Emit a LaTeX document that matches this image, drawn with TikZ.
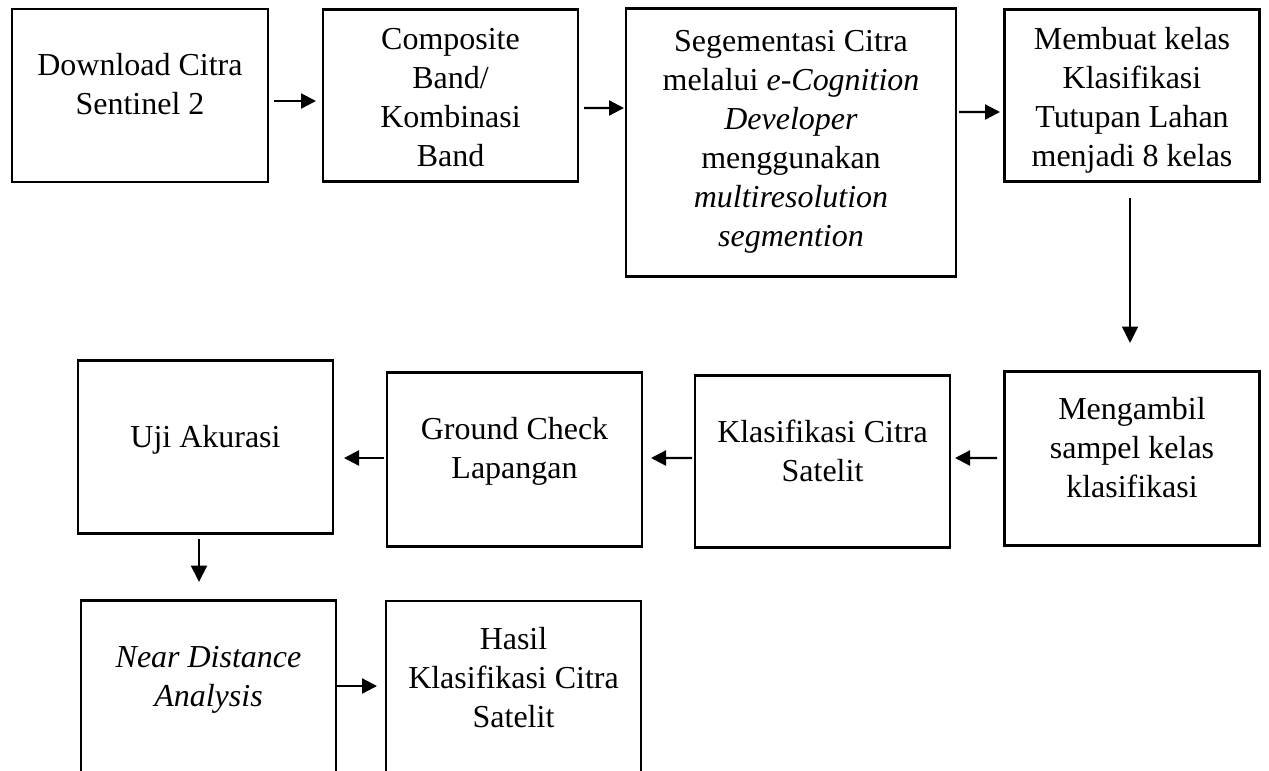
\documentclass[tikz,border=0pt]{standalone}
\usepackage{fontspec}
\setmainfont{Liberation Serif}
\usepackage{tikz}
\usetikzlibrary{arrows.meta,positioning}
\tikzset{
	block/.style = {draw, line width=1.3pt, rectangle, inner sep=0pt, outer sep=0pt, text width=5.1cm, align=flush center},
	flow/.style = {-{Triangle[length=0.3cm,width=0.3cm]}, line width=1.3pt},
	flowdown/.style = {-{Triangle[length=0.33cm,width=0.32cm]}, line width=1.1pt}
}
\begin{document}
\begin{tikzpicture}[font=\fontsize{18.2}{22.2}\selectfont]
    \useasboundingbox (0,0) rectangle (25.38,-15.4);
    \clip (0,0) rectangle (25.38,-15.4);

    \node [block, text width=5.12cm, text height=1.32cm, text depth=2.14cm] (download) at (2.8,-1.91) {Download Citra\\Sentinel 2};
    \node [block, text height=0.8cm, text depth=2.64cm, right of=download, node distance=6.21cm] (composite) {Composite\\Band/\\Kombinasi\\Band};
    \node [block, text width=6.6cm, text height=0.86cm, text depth=4.5cm, right of=composite, node distance=6.81cm, yshift=-0.94cm] (segmentasi) {Segementasi Citra\\melalui \textit{e-Cognition}\\\textit{Developer}\\menggunakan\\\textit{multiresolution}\\\textit{segmention}};
    \node [block, text height=0.8cm, text depth=2.64cm, right of=segmentasi, node distance=6.82cm, yshift=0.94cm] (membuat) {Membuat kelas\\Klasifikasi\\Tutupan Lahan\\menjadi 8 kelas};

    \node [block, text height=0.96cm, text depth=2.52cm, below of=membuat, node distance=7.26cm] (mengambil) {Mengambil\\sampel kelas\\klasifikasi};
    \node [block, text height=1.34cm, text depth=2.1cm, left of=mengambil, node distance=6.19cm, yshift=-0.06cm] (klasifikasi) {Klasifikasi Citra\\Satelit};
    \node [block, text height=1.34cm, text depth=2.14cm, left of=klasifikasi, node distance=6.16cm, yshift=0.04cm] (ground) {Ground Check\\Lapangan};
    \node [block, text height=1.74cm, text depth=1.72cm, left of=ground, node distance=6.18cm, yshift=0.25cm] (uji) {Uji Akurasi};

    \node [block, text height=1.34cm, text depth=2.26cm, below of=uji, node distance=4.87cm, xshift=0.06cm] (near) {\textit{Near Distance}\\\textit{Analysis}};
    \node [block, text height=0.96cm, text depth=2.62cm, right of=near, node distance=6.1cm] (hasil) {Hasil\\Klasifikasi Citra\\Satelit};

    \draw [flow, shorten <=0.12cm, shorten >=0.14cm] ([yshift=-0.11cm]download.east) -- ([yshift=-0.11cm]composite.west);
    \draw [flow, shorten <=0.12cm, shorten >=0.04cm] ([yshift=-0.25cm]composite.east) -- ([yshift=0.69cm]segmentasi.west);
    \draw [flow, shorten <=0.06cm, shorten >=0.09cm] ([yshift=0.61cm]segmentasi.east) -- ([yshift=-0.33cm]membuat.west);
    \draw [flowdown, shorten <=0.33cm, shorten >=0.57cm] ([xshift=-0.04cm]membuat.south) -- ([xshift=-0.04cm]mengambil.north);
    \draw [flow, shorten <=0.15cm, shorten >=0.1cm] ([yshift=0.01cm]mengambil.west) -- ([yshift=0.07cm]klasifikasi.east);
    \draw [flow, shorten <=0.06cm, shorten >=0.18cm] ([yshift=0.07cm]klasifikasi.west) -- ([yshift=0.03cm]ground.east);
    \draw [flow, shorten <=0.06cm, shorten >=0.22cm] ([yshift=0.03cm]ground.west) -- ([yshift=-0.22cm]uji.east);
    \draw [flowdown, shorten <=0.11cm, shorten >=0.37cm] ([xshift=-0.13cm]uji.south) -- ([xshift=-0.19cm]near.north);
    \draw [flow, shorten <=0.02cm, shorten >=0.18cm] ([yshift=0.09cm]near.east) -- ([yshift=0.09cm]hasil.west);
\end{tikzpicture}
\end{document}
